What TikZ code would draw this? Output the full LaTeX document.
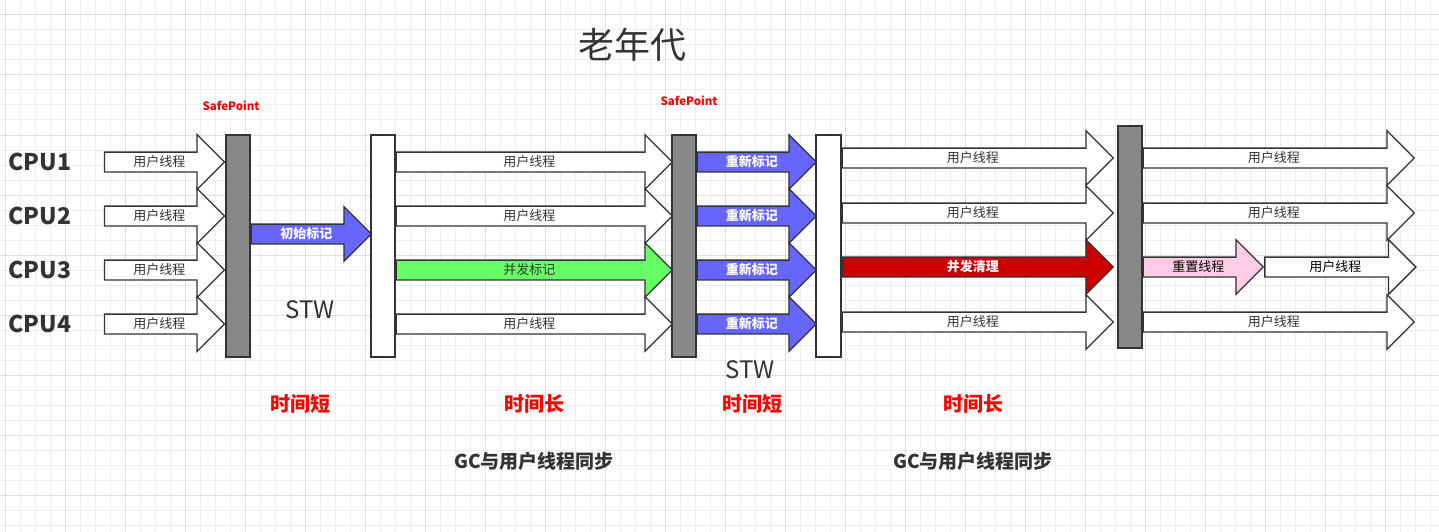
\documentclass[tikz,border=0pt]{standalone}
\usepackage{fontspec}
\setmainfont{Noto Sans CJK SC}
\definecolor{edgegray}{RGB}{51, 51, 51}
\definecolor{bargray}{RGB}{136, 136, 136}
\definecolor{markblue}{RGB}{102, 102, 255}
\definecolor{concgreen}{RGB}{102, 255, 102}
\definecolor{sweepred}{RGB}{204, 0, 0}
\definecolor{resetpink}{RGB}{255, 204, 230}
\definecolor{gcred}{RGB}{255, 0, 0}
\definecolor{gridminor}{RGB}{238, 238, 238}
\definecolor{gridmajor}{RGB}{222, 222, 222}
\usetikzlibrary{shapes.arrows, positioning, calc}
\tikzset{
  thrarrow/.style={single arrow, draw=edgegray, line width=1.3pt, single arrow head extend=17.5pt,
    single arrow head indent=0pt, inner xsep=0pt, inner ysep=0pt, minimum width=0pt,
    text height=14pt, text depth=4.5pt, font=\fontsize{13}{14}\selectfont, text=edgegray},
  usrarrow/.style={thrarrow, fill=white},
  markarrow/.style={thrarrow, fill=markblue, text=white, font=\fontsize{13}{14}\selectfont\bfseries},
  concarrow/.style={thrarrow, fill=concgreen},
  sweeparrow/.style={thrarrow, fill=sweepred, text=white, font=\fontsize{13}{14}\selectfont\bfseries},
  resetarrow/.style={thrarrow, fill=resetpink, text=black},
  gcbar/.style={draw=edgegray, line width=1.3pt, minimum width=24pt, minimum height=222pt, inner sep=0pt},
  cpulabel/.style={font=\fontsize{23}{26}\selectfont\bfseries, text=edgegray},
  safelabel/.style={font=\fontsize{11.5}{13}\selectfont\bfseries, text=gcred},
  stwlabel/.style={font=\fontsize{24}{26}\selectfont, text=edgegray},
  timelabel/.style={font=\fontsize{20}{22}\selectfont\bfseries, text=gcred},
  synclabel/.style={font=\fontsize{19}{21}\selectfont\bfseries, text=edgegray},
}
\begin{document}
\begin{tikzpicture}[x=1pt, y=-1pt]
  \useasboundingbox (0,0) rectangle (1439,532);
  % background grid
  \fill[white] (0,0) rectangle (1439,532);
  \foreach \x in {5,20,...,1439} \draw[gridminor, line width=1pt] (\x,0) -- (\x,532);
  \foreach \y in {0,15,...,532} \draw[gridminor, line width=1pt] (0,\y) -- (1439,\y);
  \foreach \x in {5,65,...,1439} \draw[gridmajor, line width=1pt] (\x,0) -- (\x,532);
  \foreach \y in {15,75,...,532} \draw[gridmajor, line width=1pt] (0,\y) -- (1439,\y);

  \node[font=\fontsize{36}{40}\selectfont, text=edgegray] (title) at (632,45) {老年代};

  % safepoint bars
  \node[gcbar, fill=bargray] (b1) at (238,246) {};
  \node[gcbar, fill=white] (b2) at (383,246) {};
  \node[gcbar, fill=bargray] (b3) at (684,246) {};
  \node[gcbar, fill=white, minimum width=25pt] (b4) at (828.5,246) {};
  \node[gcbar, fill=bargray] (b5) at (1130,237) {};
  \node[safelabel] (sp1) at (231,106) {SafePoint};
  \node[safelabel] (sp2) at (689,101) {SafePoint};

  % threads up to the first safepoint
  \foreach \r/\y in {1/162,2/216,3/270,4/324} {
    \node[cpulabel] (cpu\r) at (40,\y) {CPU\r};
    \node[usrarrow, anchor=tip, minimum height=120pt] (ua\r) at (b1.west |- 0,\y) {用户线程};
  }
  \node[markarrow, anchor=tail, minimum height=120pt] (init) at (b1.east |- 0,234) {初始标记};
  \node[stwlabel] (stw1) at (310,310) {STW};

  % concurrent mark
  \foreach \r/\y/\st/\txt in {1/162/usrarrow/用户线程, 2/216/usrarrow/用户线程,
      3/270/concarrow/并发标记, 4/324/usrarrow/用户线程}
    \node[\st, anchor=tail, minimum height=276pt] (ca\r) at (b2.east |- 0,\y) {\txt};

  % remark
  \foreach \r/\y in {1/162,2/216,3/270,4/324}
    \node[markarrow, anchor=tail, minimum height=119pt] (rm\r) at (b3.east |- 0,\y) {重新标记};
  \node[stwlabel] (stw2) at (750,370) {STW};

  % concurrent sweep
  \foreach \r/\y/\st/\txt in {1/158/usrarrow/用户线程, 2/213/usrarrow/用户线程,
      3/267/sweeparrow/并发清理, 4/322/usrarrow/用户线程}
    \node[\st, anchor=tail, minimum height=271pt] (cs\r) at (b4.east |- 0,\y) {\txt};

  % reset
  \foreach \r/\y in {1/158,2/213,4/322}
    \node[usrarrow, anchor=tail, minimum height=271pt] (rs\r) at (b5.east |- 0,\y) {用户线程};
  \node[resetarrow, anchor=tail, minimum height=120pt] (reset) at (b5.east |- 0,267) {重置线程};
  \node[usrarrow, anchor=tail, minimum height=151pt, text=black] (rs3) at (reset.tip) {用户线程};

  % phase notes
  \node[timelabel] (t1) at (300,404) {时间短};
  \node[timelabel] (t2) at (534,404) {时间长};
  \node[timelabel] (t3) at (752,404) {时间短};
  \node[timelabel] (t4) at (973,404) {时间长};
  \node[synclabel] (s1) at (534,461) {GC与用户线程同步};
  \node[synclabel] (s2) at (973,461) {GC与用户线程同步};
\end{tikzpicture}
\end{document}
